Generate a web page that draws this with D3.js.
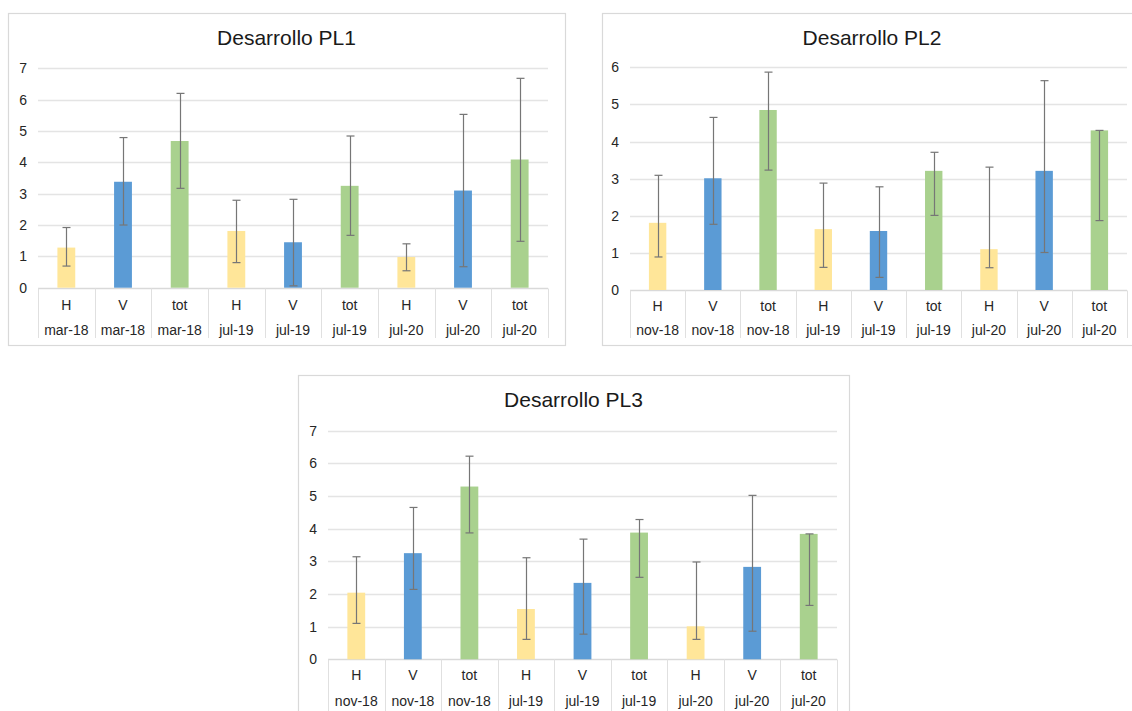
<!DOCTYPE html>
<html>
<head>
<meta charset="utf-8">
<script src="https://cdn.jsdelivr.net/npm/d3@7"></script>
<style>
  html, body { margin: 0; padding: 0; background: #ffffff; }
  svg { display: block; font-family: "Liberation Sans", Arial, sans-serif; }
</style>
</head>
<body>
<svg id="chart" width="1132" height="711"></svg>
<script>
// Category rows (inner row = measurement, outer row = campaign date)
const measures = ["H", "V", "tot", "H", "V", "tot", "H", "V", "tot"];
const datesPL1 = ["mar-18", "mar-18", "mar-18", "jul-19", "jul-19", "jul-19", "jul-20", "jul-20", "jul-20"];
const datesPL23 = ["nov-18", "nov-18", "nov-18", "jul-19", "jul-19", "jul-19", "jul-20", "jul-20", "jul-20"];

// PL1: mean and error-bar ends
const pl1Values = [1.28, 3.38, 4.68, 1.81, 1.45, 3.25, 0.98, 3.10, 4.09];
const pl1Low    = [0.69, 2.00, 3.17, 0.80, 0.06, 1.67, 0.54, 0.67, 1.48];
const pl1High   = [1.92, 4.79, 6.20, 2.79, 2.82, 4.84, 1.40, 5.53, 6.68];

// PL2
const pl2Values = [1.81, 3.01, 4.85, 1.64, 1.59, 3.21, 1.10, 3.21, 4.30];
const pl2Low    = [0.89, 1.77, 3.23, 0.61, 0.34, 2.01, 0.60, 1.01, 1.87];
const pl2High   = [3.09, 4.65, 5.87, 2.88, 2.78, 3.71, 3.31, 5.64, 4.30];

// PL3
const pl3Values = [2.04, 3.25, 5.29, 1.54, 2.34, 3.88, 1.01, 2.83, 3.84];
const pl3Low    = [1.10, 2.14, 3.87, 0.61, 0.77, 2.51, 0.61, 0.86, 1.65];
const pl3High   = [3.14, 4.65, 6.22, 3.11, 3.68, 4.28, 2.98, 5.02, 3.84];

const ticksTo7 = [0, 1, 2, 3, 4, 5, 6, 7];
const ticksTo6 = [0, 1, 2, 3, 4, 5, 6];

const measureColor = { H: "#FFE699", V: "#5B9BD5", tot: "#A9D18E" };

const svg = d3.select("#chart");

function drawPanel(cfg) {
  const g = svg.append("g");

  // frame
  g.append("rect")
    .attr("x", cfg.box[0] + 0.5).attr("y", cfg.box[1] + 0.5)
    .attr("width", cfg.box[2]).attr("height", cfg.box[3])
    .attr("fill", "#ffffff").attr("stroke", "#d9d9d9").attr("stroke-width", 1.2);

  // title
  g.append("text")
    .attr("x", cfg.box[0] + cfg.box[2] / 2)
    .attr("y", cfg.titleY)
    .attr("text-anchor", "middle")
    .attr("font-size", "21px")
    .attr("fill", "#1a1a1a")
    .text(cfg.title);

  const ticks = cfg.ticks;
  const y = d3.scaleLinear()
    .domain([0, ticks[ticks.length - 1]])
    .range([cfg.plot.bottom, cfg.plot.top]);

  const idx = d3.range(cfg.values.length);
  const x = d3.scaleBand().domain(idx).range([cfg.plot.left, cfg.plot.right]).padding(0);
  const barW = x.bandwidth() * 0.315;

  // gridlines
  g.append("g").selectAll("line")
    .data(ticks.filter(t => t > 0))
    .join("line")
    .attr("x1", cfg.plot.left).attr("x2", cfg.plot.right)
    .attr("y1", d => Math.round(y(d)) + 0.5).attr("y2", d => Math.round(y(d)) + 0.5)
    .attr("stroke", "#e4e4e4").attr("stroke-width", 1.5);

  // y tick labels
  g.append("g").selectAll("text")
    .data(ticks)
    .join("text")
    .attr("x", cfg.plot.left - 11)
    .attr("y", d => y(d))
    .attr("dy", "0.36em")
    .attr("text-anchor", "end")
    .attr("font-size", "14px")
    .attr("fill", "#262626")
    .text(d => d);

  // category axis: baseline and cell separators
  const axisY = Math.round(y(0)) + 0.5;
  g.append("line")
    .attr("x1", cfg.plot.left).attr("x2", cfg.plot.right)
    .attr("y1", axisY).attr("y2", axisY)
    .attr("stroke", "#d9d9d9").attr("stroke-width", 1.3);
  const seps = idx.map(i => x(i)).concat([cfg.plot.right]);
  g.append("g").selectAll("line")
    .data(seps)
    .join("line")
    .attr("x1", d => Math.round(d) + 0.5).attr("x2", d => Math.round(d) + 0.5)
    .attr("y1", axisY).attr("y2", cfg.sepBottom)
    .attr("stroke", "#e0e0e0").attr("stroke-width", 1);

  // bars
  g.append("g").selectAll("rect")
    .data(idx)
    .join("rect")
    .attr("x", i => x(i) + x.bandwidth() / 2 - barW / 2)
    .attr("y", i => y(cfg.values[i]))
    .attr("width", barW)
    .attr("height", i => y(0) - y(cfg.values[i]))
    .attr("fill", i => measureColor[measures[i]]);

  // error bars
  const capHalf = 4;
  const eb = g.append("g").attr("stroke", "#767676").attr("stroke-width", 1.2);
  idx.forEach(i => {
    const cx = Math.round(x(i) + x.bandwidth() / 2) + 0.5;
    const yl = y(cfg.low[i]), yh = y(cfg.high[i]);
    eb.append("line").attr("x1", cx).attr("x2", cx).attr("y1", yh).attr("y2", yl);
    eb.append("line").attr("x1", cx - capHalf).attr("x2", cx + capHalf).attr("y1", yh).attr("y2", yh);
    eb.append("line").attr("x1", cx - capHalf).attr("x2", cx + capHalf).attr("y1", yl).attr("y2", yl);
  });

  // category labels, two rows
  const cx = i => x(i) + x.bandwidth() / 2;
  g.append("g").selectAll("text")
    .data(idx)
    .join("text")
    .attr("x", cx).attr("y", cfg.row1Y).attr("dy", "0.36em")
    .attr("text-anchor", "middle").attr("font-size", "14px").attr("fill", "#262626")
    .text(i => measures[i]);
  g.append("g").selectAll("text")
    .data(idx)
    .join("text")
    .attr("x", cx).attr("y", cfg.row2Y).attr("dy", "0.36em")
    .attr("text-anchor", "middle").attr("font-size", "14px").attr("fill", "#262626")
    .text(i => cfg.dates[i]);
}

drawPanel({
  title: "Desarrollo PL1",
  box: [8, 13, 557, 332],
  titleY: 45,
  plot: { left: 38, right: 548, top: 68.3, bottom: 287.7 },
  ticks: ticksTo7,
  sepBottom: 338,
  row1Y: 304.5, row2Y: 330,
  values: pl1Values, low: pl1Low, high: pl1High, dates: datesPL1
});

drawPanel({
  title: "Desarrollo PL2",
  box: [602, 13, 540, 332],
  titleY: 44.5,
  plot: { left: 630, right: 1127, top: 67.3, bottom: 290 },
  ticks: ticksTo6,
  sepBottom: 338,
  row1Y: 306, row2Y: 330,
  values: pl2Values, low: pl2Low, high: pl2High, dates: datesPL23
});

drawPanel({
  title: "Desarrollo PL3",
  box: [298, 375, 551, 345],
  titleY: 406.5,
  plot: { left: 328, right: 837, top: 430.7, bottom: 659.3 },
  ticks: ticksTo7,
  sepBottom: 712,
  row1Y: 675, row2Y: 700.5,
  values: pl3Values, low: pl3Low, high: pl3High, dates: datesPL23
});
</script>
</body>
</html>
